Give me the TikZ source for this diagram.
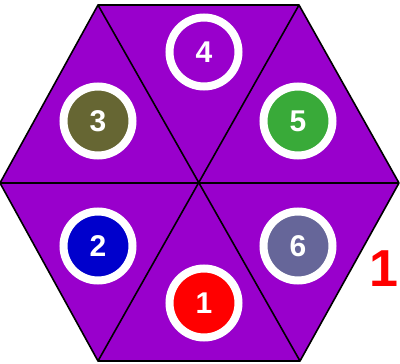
\documentclass[tikz,border=0pt]{standalone}
\usepackage{fontspec}
\setmainfont{Liberation Sans}
\usepackage{xcolor}
\usepackage{tikz}

\definecolor{hexpurple}{HTML}{9900CC}
\definecolor{olive3}{HTML}{666633}
\definecolor{green5}{HTML}{39AA39}
\definecolor{blue2}{HTML}{0000CC}
\definecolor{slate6}{HTML}{666699}
\definecolor{red1}{HTML}{FF0000}

\begin{document}
\begin{tikzpicture}[x=1pt, y=-1pt,
    every node/.style={font=\fontsize{30}{30}\selectfont\bfseries},
    disc/.style={circle, draw=white, line width=8pt, minimum size=69pt, inner sep=0pt, text=white}]
        \useasboundingbox (0,0) rectangle (400,364);
        \coordinate (c) at (199,183);
        \coordinate (l) at (0,183);
        \coordinate (tl) at (98,5);
        \coordinate (tr) at (299,5);
        \coordinate (r) at (399,183);
        \coordinate (br) at (300,361);
        \coordinate (bl) at (98,361);
        \fill[hexpurple] (l) -- (tl) -- (tr) -- (r) -- (br) -- (bl) -- cycle;
        \draw[line width=1.6pt, line join=round] (l) -- (tl) -- (tr) -- (r) -- (br) -- (bl) -- cycle;
        \draw[line width=1.6pt] (l) -- (r);
        \draw[line width=1.6pt] (tl) -- (br);
        \draw[line width=1.6pt] (tr) -- (bl);
        \node[disc, fill=hexpurple] (d4) at (204,52) {4};
        \node[disc, fill=olive3] (d3) at (98,121) {3};
        \node[disc, fill=green5] (d5) at (298,121) {5};
        \node[disc, fill=blue2] (d2) at (98,246) {2};
        \node[disc, fill=slate6] (d6) at (298,246) {6};
        \node[disc, fill=red1] (d1) at (204,303) {1};
        \node[text=red1, font=\fontsize{52}{52}\selectfont\bfseries] (side) at (384,269) {1};
    \end{tikzpicture}
\end{document}
